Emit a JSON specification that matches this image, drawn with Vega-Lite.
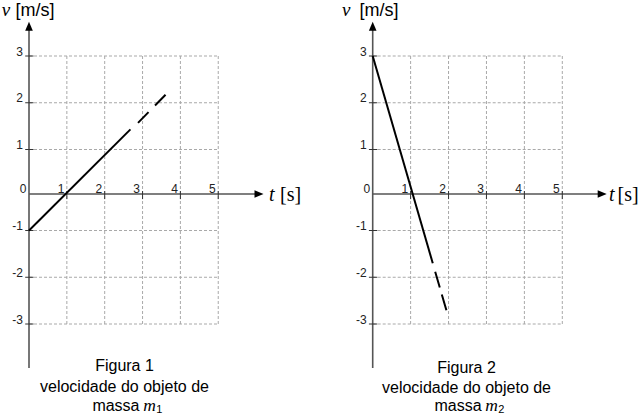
{
  "$schema": "https://vega.github.io/schema/vega-lite/v6.json",
  "padding": 0,
  "bounds": "flush",
  "spacing": 0,
  "background": "white",
  "config": {"view": {"stroke": null}},
  "datasets": {
    "grid": [
      {"t": 1, "v": -3, "t2": 1, "v2": 3},
      {"t": 2, "v": -3, "t2": 2, "v2": 3},
      {"t": 3, "v": -3, "t2": 3, "v2": 3},
      {"t": 4, "v": -3, "t2": 4, "v2": 3},
      {"t": 5, "v": -3, "t2": 5, "v2": 3},
      {"t": 0, "v": 3, "t2": 5, "v2": 3},
      {"t": 0, "v": 2, "t2": 5, "v2": 2},
      {"t": 0, "v": 1, "t2": 5, "v2": 1},
      {"t": 0, "v": -1, "t2": 5, "v2": -1},
      {"t": 0, "v": -2, "t2": 5, "v2": -2},
      {"t": 0, "v": -3, "t2": 5, "v2": -3}
    ],
    "axes": [
      {"t": 0, "v": -3.94, "t2": 0, "v2": 3.6},
      {"t": 0, "v": 0, "t2": 6.0, "v2": 0}
    ],
    "ticks": [
      {"t": -0.1, "v": 3, "t2": 0.12, "v2": 3},
      {"t": -0.1, "v": 2, "t2": 0.12, "v2": 2},
      {"t": -0.1, "v": 1, "t2": 0.12, "v2": 1},
      {"t": -0.1, "v": -1, "t2": 0.12, "v2": -1},
      {"t": -0.1, "v": -2, "t2": 0.12, "v2": -2},
      {"t": -0.1, "v": -3, "t2": 0.12, "v2": -3},
      {"t": 1, "v": 0.067, "t2": 1, "v2": -0.14},
      {"t": 2, "v": 0.067, "t2": 2, "v2": -0.14},
      {"t": 3, "v": 0.067, "t2": 3, "v2": -0.14},
      {"t": 4, "v": 0.067, "t2": 4, "v2": -0.14},
      {"t": 5, "v": 0.067, "t2": 5, "v2": -0.14}
    ],
    "xlabels": [
      {"t": 0, "v": 0, "label": "0"},
      {"t": 1, "v": 0, "label": "1"},
      {"t": 2, "v": 0, "label": "2"},
      {"t": 3, "v": 0, "label": "3"},
      {"t": 4, "v": 0, "label": "4"},
      {"t": 5, "v": 0, "label": "5"}
    ],
    "ylabels": [
      {"t": 0, "v": 3, "label": "3"},
      {"t": 0, "v": 2, "label": "2"},
      {"t": 0, "v": 1, "label": "1"},
      {"t": 0, "v": -1, "label": "-1"},
      {"t": 0, "v": -2, "label": "-2"},
      {"t": 0, "v": -3, "label": "-3"}
    ],
    "line1": [
      {"t": 0, "v": -1, "seg": "solid"},
      {"t": 2.68, "v": 1.43, "seg": "solid"},
      {"t": 2.88, "v": 1.57, "seg": "dashed"},
      {"t": 3.62, "v": 2.18, "seg": "dashed"}
    ],
    "line2": [
      {"t": 0, "v": 3, "seg": "solid"},
      {"t": 1.584, "v": -1.7, "seg": "solid"},
      {"t": 1.648, "v": -1.881, "seg": "dashed"},
      {"t": 1.944, "v": -2.707, "seg": "dashed"}
    ]
  },
  "hconcat": [
    {
      "width": 321,
      "height": 415,
      "encoding": {
        "x": {"field": "t", "type": "quantitative", "scale": {"domain": [-0.7662, 7.7147], "nice": false, "zero": false}, "axis": null},
        "y": {"field": "v", "type": "quantitative", "scale": {"domain": [-3, -1, 0, 1, 3], "range": [323, 229.5, 193, 148.5, 55], "nice": false, "zero": false}, "axis": null}
      },
      "layer": [
        {"data": {"name": "grid"}, "mark": {"type": "rule", "stroke": "#a9a9a9", "strokeWidth": 1, "strokeDash": [3, 2]}, "encoding": {"x2": {"field": "t2"}, "y2": {"field": "v2"}}},
        {"data": {"name": "axes"}, "mark": {"type": "rule", "stroke": "#555555", "strokeWidth": 1.6}, "encoding": {"x2": {"field": "t2"}, "y2": {"field": "v2"}}},
        {"data": {"name": "ticks"}, "mark": {"type": "rule", "stroke": "#333333", "strokeWidth": 1}, "encoding": {"x2": {"field": "t2"}, "y2": {"field": "v2"}}},
        {"data": {"name": "line1"}, "transform": [{"filter": "datum.seg === 'solid'"}], "mark": {"type": "line", "stroke": "black", "strokeWidth": 2}, "encoding": {}},
        {"data": {"name": "line1"}, "transform": [{"filter": "datum.seg === 'dashed'"}], "mark": {"type": "line", "stroke": "black", "strokeWidth": 2, "strokeDash": [15, 9.3]}, "encoding": {}},
        {"data": {"values": [{"t": 0, "v": 3.637, "dir": "up"}, {"t": 6.077, "v": 0, "dir": "right"}]}, "mark": {"type": "point", "filled": true, "color": "black", "opacity": 1, "size": 81},
         "encoding": {"shape": {"field": "dir", "type": "nominal", "scale": {"domain": ["up", "right"], "range": ["M0,-1L0.85,1L-0.85,1Z", "M1,0L-1,0.85L-1,-0.85Z"]}, "legend": null}}},
        {"data": {"name": "xlabels"}, "mark": {"type": "text", "align": "right", "baseline": "alphabetic", "dx": -2.5, "dy": -1, "font": "Liberation Sans", "fontSize": 12, "color": "#222222"}, "encoding": {"text": {"field": "label"}}},
        {"data": {"name": "ylabels"}, "mark": {"type": "text", "align": "right", "baseline": "alphabetic", "dx": -6, "dy": -0.5, "font": "Liberation Sans", "fontSize": 12, "color": "#222222"}, "encoding": {"text": {"field": "label"}}},
        {"data": {"values": [{"t": -0.721, "v": 3.856, "label": "v"}]}, "mark": {"type": "text", "align": "left", "baseline": "alphabetic", "font": "Liberation Serif", "fontStyle": "italic", "fontSize": 19, "color": "#000000"}, "encoding": {"text": {"field": "label"}}},
        {"data": {"values": [{"t": -0.357, "v": 3.856, "label": "[m/s]"}]}, "mark": {"type": "text", "align": "left", "baseline": "alphabetic", "font": "Liberation Sans", "fontSize": 18, "color": "#000000"}, "encoding": {"text": {"field": "label"}}},
        {"data": {"values": [{"t": 6.341, "v": -0.192, "label": "t"}]}, "mark": {"type": "text", "align": "left", "baseline": "alphabetic", "font": "Liberation Serif", "fontStyle": "italic", "fontSize": 20, "color": "#000000"}, "encoding": {"text": {"field": "label"}}},
        {"data": {"values": [{"t": 6.631, "v": -0.192, "label": "[s]"}]}, "mark": {"type": "text", "align": "left", "baseline": "alphabetic", "font": "Liberation Serif", "fontSize": 20, "color": "#000000"}, "encoding": {"text": {"field": "label"}}},
        {"data": {"values": [{"t": 2.523, "v": -4.005, "label": "Figura 1"}, {"t": 2.523, "v": -4.45, "label": "velocidade do objeto de"}]}, "mark": {"type": "text", "align": "center", "baseline": "alphabetic", "font": "Liberation Sans", "fontSize": 16, "color": "#000000"}, "encoding": {"text": {"field": "label"}}},
        {"data": {"values": [{"t": 2.92, "v": -4.86, "label": "massa"}]}, "mark": {"type": "text", "align": "right", "baseline": "alphabetic", "font": "Liberation Sans", "fontSize": 16, "color": "#000000"}, "encoding": {"text": {"field": "label"}}},
        {"data": {"values": [{"t": 3.02, "v": -4.86, "label": "m"}]}, "mark": {"type": "text", "align": "left", "baseline": "alphabetic", "font": "Liberation Serif", "fontStyle": "italic", "fontSize": 17.5, "color": "#000000"}, "encoding": {"text": {"field": "label"}}},
        {"data": {"values": [{"t": 3.36, "v": -4.9, "label": "1"}]}, "mark": {"type": "text", "align": "left", "baseline": "alphabetic", "font": "Liberation Sans", "fontSize": 11, "color": "#000000"}, "encoding": {"text": {"field": "label"}}}
      ]
    },
    {
      "width": 321,
      "height": 415,
      "encoding": {
        "x": {"field": "t", "type": "quantitative", "scale": {"domain": [-1.3634, 7.1018], "nice": false, "zero": false}, "axis": null},
        "y": {"field": "v", "type": "quantitative", "scale": {"domain": [-3, -1, 0, 1, 3], "range": [323, 229.5, 193, 148.5, 55], "nice": false, "zero": false}, "axis": null}
      },
      "layer": [
        {"data": {"name": "grid"}, "mark": {"type": "rule", "stroke": "#a9a9a9", "strokeWidth": 1, "strokeDash": [3, 2]}, "encoding": {"x2": {"field": "t2"}, "y2": {"field": "v2"}}},
        {"data": {"name": "axes"}, "mark": {"type": "rule", "stroke": "#555555", "strokeWidth": 1.6}, "encoding": {"x2": {"field": "t2"}, "y2": {"field": "v2"}}},
        {"data": {"name": "ticks"}, "mark": {"type": "rule", "stroke": "#333333", "strokeWidth": 1}, "encoding": {"x2": {"field": "t2"}, "y2": {"field": "v2"}}},
        {"data": {"name": "line2"}, "transform": [{"filter": "datum.seg === 'solid'"}], "mark": {"type": "line", "stroke": "black", "strokeWidth": 2}, "encoding": {}},
        {"data": {"name": "line2"}, "transform": [{"filter": "datum.seg === 'dashed'"}], "mark": {"type": "line", "stroke": "black", "strokeWidth": 2, "strokeDash": [16.5, 7.2]}, "encoding": {}},
        {"data": {"values": [{"t": 0, "v": 3.637, "dir": "up"}, {"t": 6.052, "v": 0, "dir": "right"}]}, "mark": {"type": "point", "filled": true, "color": "black", "opacity": 1, "size": 81},
         "encoding": {"shape": {"field": "dir", "type": "nominal", "scale": {"domain": ["up", "right"], "range": ["M0,-1L0.85,1L-0.85,1Z", "M1,0L-1,0.85L-1,-0.85Z"]}, "legend": null}}},
        {"data": {"name": "xlabels"}, "mark": {"type": "text", "align": "right", "baseline": "alphabetic", "dx": -2.5, "dy": -1, "font": "Liberation Sans", "fontSize": 12, "color": "#222222"}, "encoding": {"text": {"field": "label"}}},
        {"data": {"name": "ylabels"}, "mark": {"type": "text", "align": "right", "baseline": "alphabetic", "dx": -6, "dy": -0.5, "font": "Liberation Sans", "fontSize": 12, "color": "#222222"}, "encoding": {"text": {"field": "label"}}},
        {"data": {"values": [{"t": -0.81, "v": 3.856, "label": "v"}]}, "mark": {"type": "text", "align": "left", "baseline": "alphabetic", "font": "Liberation Serif", "fontStyle": "italic", "fontSize": 19, "color": "#000000"}, "encoding": {"text": {"field": "label"}}},
        {"data": {"values": [{"t": -0.348, "v": 3.856, "label": "[m/s]"}]}, "mark": {"type": "text", "align": "left", "baseline": "alphabetic", "font": "Liberation Sans", "fontSize": 18, "color": "#000000"}, "encoding": {"text": {"field": "label"}}},
        {"data": {"values": [{"t": 6.232, "v": -0.192, "label": "t"}]}, "mark": {"type": "text", "align": "left", "baseline": "alphabetic", "font": "Liberation Serif", "fontStyle": "italic", "fontSize": 20, "color": "#000000"}, "encoding": {"text": {"field": "label"}}},
        {"data": {"values": [{"t": 6.456, "v": -0.192, "label": "[s]"}]}, "mark": {"type": "text", "align": "left", "baseline": "alphabetic", "font": "Liberation Serif", "fontSize": 20, "color": "#000000"}, "encoding": {"text": {"field": "label"}}},
        {"data": {"values": [{"t": 2.474, "v": -4.05, "label": "Figura 2"}, {"t": 2.474, "v": -4.47, "label": "velocidade do objeto de"}]}, "mark": {"type": "text", "align": "center", "baseline": "alphabetic", "font": "Liberation Sans", "fontSize": 16, "color": "#000000"}, "encoding": {"text": {"field": "label"}}},
        {"data": {"values": [{"t": 2.87, "v": -4.865, "label": "massa"}]}, "mark": {"type": "text", "align": "right", "baseline": "alphabetic", "font": "Liberation Sans", "fontSize": 16, "color": "#000000"}, "encoding": {"text": {"field": "label"}}},
        {"data": {"values": [{"t": 2.97, "v": -4.865, "label": "m"}]}, "mark": {"type": "text", "align": "left", "baseline": "alphabetic", "font": "Liberation Serif", "fontStyle": "italic", "fontSize": 17.5, "color": "#000000"}, "encoding": {"text": {"field": "label"}}},
        {"data": {"values": [{"t": 3.31, "v": -4.905, "label": "2"}]}, "mark": {"type": "text", "align": "left", "baseline": "alphabetic", "font": "Liberation Sans", "fontSize": 11, "color": "#000000"}, "encoding": {"text": {"field": "label"}}}
      ]
    }
  ]
}
